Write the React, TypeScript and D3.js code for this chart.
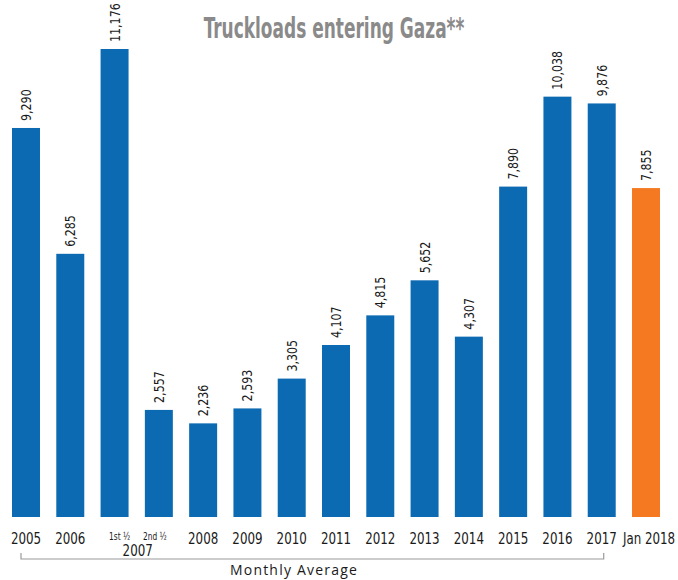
import React from "react";
import * as d3 from "d3";

const categories = ["2005", "2006", "2007a", "2007b", "2008", "2009", "2010", "2011", "2012", "2013", "2014", "2015", "2016", "2017", "Jan 2018"];
const tickLabels = ["2005", "2006", "1st ½", "2nd ½", "2008", "2009", "2010", "2011", "2012", "2013", "2014", "2015", "2016", "2017", "Jan 2018"];
const values = [9290, 6285, 11176, 2557, 2236, 2593, 3305, 4107, 4815, 5652, 4307, 7890, 10038, 9876, 7855];
const title = "Truckloads entering Gaza**";
const groupLabel = "2007";
const bracketLabel = "Monthly Average";

const W = 678;
const H = 580;
const NARROW = "'DejaVu Sans Condensed', 'DejaVu Sans', sans-serif";

export default function App() {
  const x = d3.scaleBand<string>().domain(categories).range([12, 660]).paddingInner(0.368).paddingOuter(0);
  const y = d3.scaleLinear().domain([0, 11176]).range([517, 49]);
  const fmt = d3.format(",");
  const bw = x.bandwidth();
  const cx = (c: string) => (x(c) as number) + bw / 2;
  const bx0 = cx("2005") - 5;
  const bx1 = cx("2017") + 2;
  return (
    <svg width={W} height={H} style={{ position: "absolute", left: 0, top: 0, background: "#fff" }}>
      <text
        transform="translate(334,38) scale(0.675,1)"
        textAnchor="middle"
        fill="#8a8a8a"
        fontFamily={NARROW}
        fontWeight="bold"
        fontSize={28}
      >
        {title}
      </text>
      {categories.map((c, i) => (
        <g key={c}>
          <rect x={x(c)} y={y(values[i])} width={bw} height={y(0) - y(values[i])} fill={i === categories.length - 1 ? "#f47920" : "#0c6ab3"} />
          <text
            transform={`translate(${cx(c) + 5},${y(values[i]) - 7}) rotate(-90) scale(0.88,1)`}
            fill="#1a1a1a"
            fontFamily={NARROW}
            fontSize={14}
          >
            {fmt(values[i])}
          </text>
        </g>
      ))}
      {categories.map((c, i) => {
        const small = i === 2 || i === 3;
        const off = i === 2 ? 5 : i === 3 ? -4 : i === categories.length - 1 ? 3 : 0;
        return (
          <text
            key={"t" + c}
            transform={`translate(${cx(c) + off},${small ? 540 : 544}) scale(${small ? 0.75 : 0.88},1)`}
            textAnchor="middle"
            fill="#1a1a1a"
            fontFamily={NARROW}
            fontSize={small ? 11 : 15}
          >
            {tickLabels[i]}
          </text>
        );
      })}
      <text
        transform={`translate(${(cx("2007a") + cx("2007b")) / 2 + 1},556) scale(0.88,1)`}
        textAnchor="middle"
        fill="#1a1a1a"
        fontFamily={NARROW}
        fontSize={15}
      >
        {groupLabel}
      </text>
      <path d={`M${bx0},553 V559 H${bx1} V553`} fill="none" stroke="#9a9a9a" strokeWidth={1.2} />
      <text x={294} y={575} textAnchor="middle" fill="#1a1a1a" fontFamily="'Open Sans', 'DejaVu Sans', sans-serif" fontSize={14} letterSpacing={1.2}>
        {bracketLabel}
      </text>
    </svg>
  );
}
